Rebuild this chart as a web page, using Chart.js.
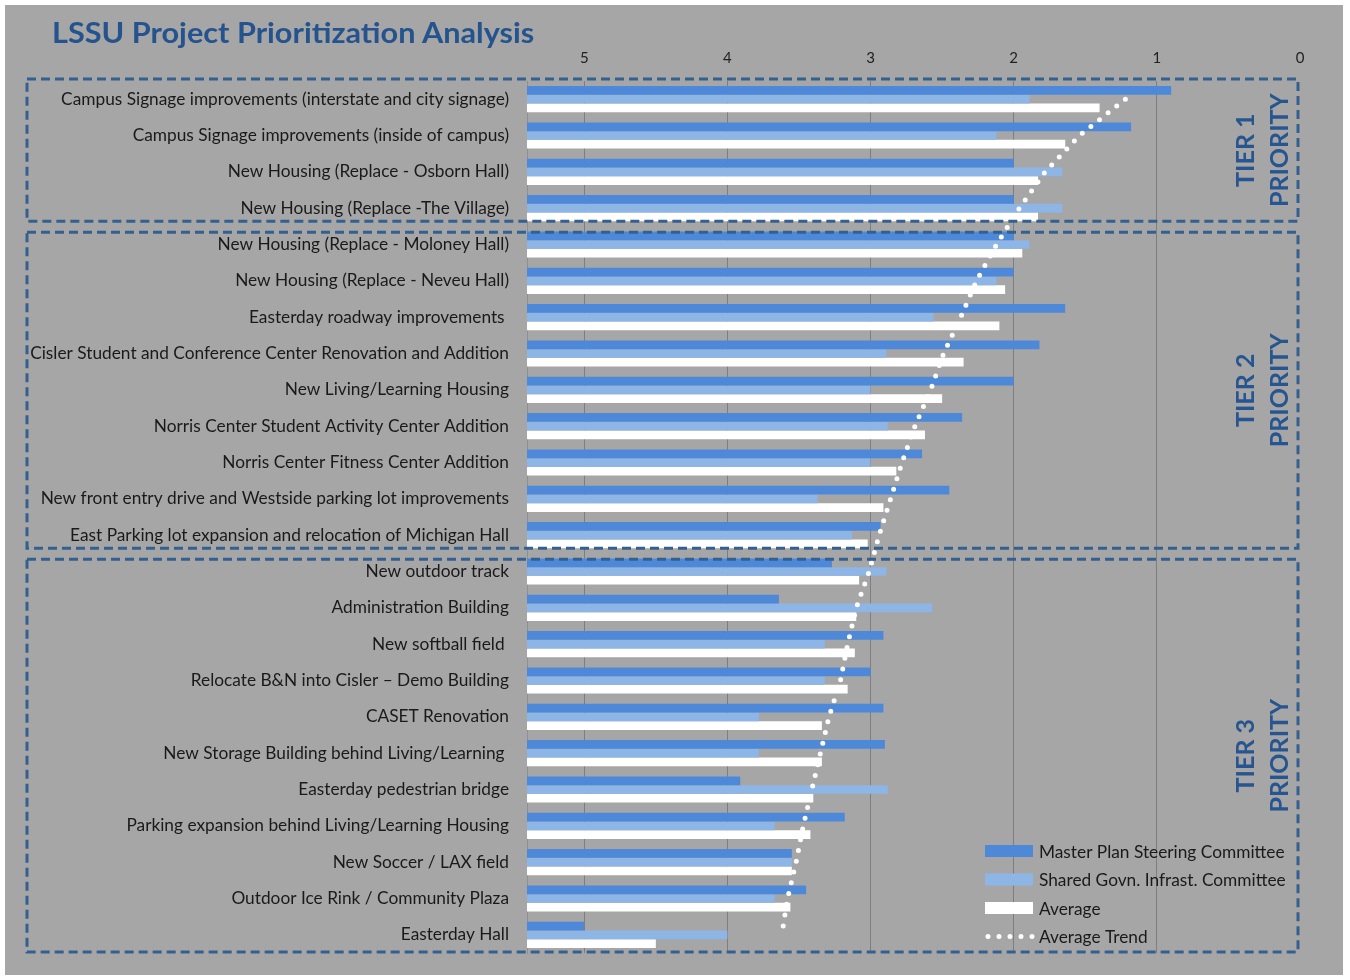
<!DOCTYPE html>
<html>
<head>
<meta charset="utf-8">
<title>LSSU Project Prioritization Analysis</title>
<script src="https://cdn.jsdelivr.net/npm/chart.js@4.4.0/dist/chart.umd.min.js"></script>
<style>
  html, body { margin: 0; padding: 0; background: #ffffff; }
  .frame { position: absolute; left: 5px; top: 5px; width: 1338px; height: 970px; background: #a6a6a6; }
  .chart-box { position: absolute; left: 0; top: 0; width: 1338px; height: 970px; }
  .title { position: absolute; left: 47px; top: 11px; font: bold 28px Lato, sans-serif; line-height: 32px; color: #24538d;
           white-space: nowrap; transform: scaleX(1.095); transform-origin: left center; }
</style>
</head>
<body>
<div class="frame">
  <div class="chart-box"><canvas id="priorityChart"></canvas></div>
  <div class="title">LSSU Project Prioritization Analysis</div>
</div>
<script>
// data
const projects = [
  "Campus Signage improvements (interstate and city signage)",
  "Campus Signage improvements (inside of campus)",
  "New Housing (Replace - Osborn Hall)",
  "New Housing (Replace -The Village)",
  "New Housing (Replace - Moloney Hall)",
  "New Housing (Replace - Neveu Hall)",
  "Easterday roadway improvements ",
  "Cisler Student and Conference Center Renovation and Addition",
  "New Living/Learning Housing",
  "Norris Center Student Activity Center Addition",
  "Norris Center Fitness Center Addition",
  "New front entry drive and Westside parking lot improvements",
  "East Parking lot expansion and relocation of Michigan Hall",
  "New outdoor track",
  "Administration Building",
  "New softball field ",
  "Relocate B&N into Cisler \u2013 Demo Building",
  "CASET Renovation",
  "New Storage Building behind Living/Learning ",
  "Easterday pedestrian bridge",
  "Parking expansion behind Living/Learning Housing",
  "New Soccer / LAX field",
  "Outdoor Ice Rink / Community Plaza",
  "Easterday Hall"
];
const masterPlan = [0.90, 1.18, 2.00, 2.00, 2.00, 2.00, 1.64, 1.82, 2.00, 2.36, 2.64, 2.45, 2.93,
                    3.27, 3.64, 2.91, 3.00, 2.91, 2.90, 3.91, 3.18, 3.55, 3.45, 5.00];
const sharedGovn = [1.89, 2.12, 1.66, 1.66, 1.89, 2.12, 2.56, 2.89, 3.00, 2.88, 3.00, 3.37, 3.13,
                    2.89, 2.57, 3.32, 3.32, 3.78, 3.78, 2.88, 3.67, 3.55, 3.67, 4.00];
const averageScore = [1.40, 1.64, 1.83, 1.83, 1.94, 2.06, 2.10, 2.35, 2.50, 2.62, 2.82, 2.91, 3.02,
                      3.08, 3.10, 3.11, 3.16, 3.34, 3.34, 3.40, 3.42, 3.55, 3.56, 4.50];
const averageTrend = [1.22, 1.54, 1.78, 1.96, 2.12, 2.26, 2.37, 2.49, 2.58, 2.69, 2.78, 2.86, 2.94,
                      3.01, 3.10, 3.16, 3.21, 3.29, 3.35, 3.41, 3.47, 3.52, 3.58, 3.62];
const scoreTicks = [0, 1, 2, 3, 4, 5];
const scoreMax = 5.4;
const tierNames = ["TIER 1", "TIER 2", "TIER 3"];
const tierSizes = [4, 9, 11];

const boxColor = "#33608f";
const labelFont = "Lato, 'Open Sans', sans-serif";

// dashed tier boxes + rotated tier labels
const tierPlugin = {
  id: "tierBoxes",
  afterDraw(chart) {
    const { ctx, chartArea } = chart;
    const y = chart.scales.y;
    const half = (y.getPixelForValue(1) - y.getPixelForValue(0)) / 2;
    const left = 22;
    const right = chartArea.right - 2;
    let first = 0;
    ctx.save();
    tierNames.forEach((name, i) => {
      const last = first + tierSizes[i] - 1;
      const top = i === 0 ? chartArea.top - 2 : y.getPixelForValue(first) - half + 6;
      const bottom = i === tierNames.length - 1 ? chartArea.bottom - 1 : y.getPixelForValue(last) + half - 5;
      ctx.strokeStyle = boxColor;
      ctx.lineWidth = 3;
      ctx.setLineDash([9, 5]);
      ctx.strokeRect(left, top, right - left, bottom - top);
      ctx.setLineDash([]);

      const mid = (top + bottom) / 2;
      ctx.fillStyle = "#27558f";
      ctx.font = "bold 25px " + labelFont;
      ctx.textAlign = "center";
      ctx.textBaseline = "middle";
      [[name, chartArea.right - 54], ["PRIORITY", chartArea.right - 20]].forEach(([txt, cx]) => {
        ctx.save();
        ctx.translate(cx, mid);
        ctx.rotate(-Math.PI / 2);
        ctx.fillText(txt, 0, 0);
        ctx.restore();
      });
      first = last + 1;
    });
    ctx.restore();
  }
};

// legend in the lower right corner of the plot
const cornerLegend = {
  id: "cornerLegend",
  afterDraw(chart) {
    const { ctx, chartArea } = chart;
    const x0 = chartArea.right - 315;
    let yy = chartArea.bottom - 102;
    ctx.save();
    ctx.font = "17.3px " + labelFont;
    ctx.textBaseline = "middle";
    ctx.textAlign = "left";
    chart.data.datasets.forEach(ds => {
      if (ds.type === "line") {
        ctx.strokeStyle = ds.borderColor;
        ctx.lineWidth = ds.borderWidth;
        ctx.lineCap = "round";
        ctx.setLineDash(ds.borderDash);
        ctx.beginPath();
        ctx.moveTo(x0 + 3, yy);
        ctx.lineTo(x0 + 48, yy);
        ctx.stroke();
        ctx.setLineDash([]);
      } else {
        ctx.fillStyle = ds.backgroundColor;
        ctx.fillRect(x0, yy - 6, 48, 12);
      }
      ctx.fillStyle = "#1a1a1a";
      ctx.fillText(ds.label, x0 + 54, yy + 1);
      yy += 28.5;
    });
    ctx.restore();
  }
};

const ctx = document.getElementById("priorityChart").getContext("2d");
const priorityChart = new Chart(ctx, {
  type: "bar",
  data: {
    labels: projects,
    datasets: [
      { label: "Master Plan Steering Committee", data: masterPlan, backgroundColor: "#4d88d9", base: scoreMax },
      { label: "Shared Govn. Infrast. Committee", data: sharedGovn, backgroundColor: "#8db5e6", base: scoreMax },
      { label: "Average", data: averageScore, backgroundColor: "#ffffff", base: scoreMax },
      {
        type: "line", label: "Average Trend", data: averageTrend, indexAxis: "y", order: -1,
        borderColor: "#ffffff", borderWidth: 5, borderDash: [0, 11], borderCapStyle: "round",
        pointRadius: 0, tension: 0, fill: false
      }
    ]
  },
  options: {
    indexAxis: "y",
    responsive: true,
    maintainAspectRatio: false,
    animation: false,
    layout: { padding: { left: 0, right: 43, top: 0, bottom: 22 } },
    datasets: { bar: { categoryPercentage: 0.72, barPercentage: 1.0 } },
    plugins: { legend: { display: false }, tooltip: { enabled: false } },
    scales: {
      x: {
        position: "top",
        reverse: true,
        min: 0,
        max: scoreMax,
        afterBuildTicks: scale => { scale.ticks = scoreTicks.map(v => ({ value: v })); },
        afterFit: scale => { scale.height = 76; scale.paddingLeft = 0; scale.paddingRight = 0; },
        grid: {
          drawTicks: false,
          lineWidth: 1,
          color: c => (c.tick && c.tick.value === 0 ? "rgba(0,0,0,0)" : "#7e7e7e")
        },
        border: { display: false },
        ticks: { padding: 14, color: "#222222", font: { family: labelFont, size: 15 } }
      },
      y: {
        afterFit: scale => { scale.width = 522; scale.paddingTop = 0; scale.paddingBottom = 0; },
        grid: { display: false, drawTicks: false },
        border: { display: true, color: "#8f8f8f", width: 1 },
        ticks: { autoSkip: false, padding: 18, color: "#1a1a1a", font: { family: labelFont, size: 17.3 } }
      }
    }
  },
  plugins: [tierPlugin, cornerLegend]
});
</script>
</body>
</html>
